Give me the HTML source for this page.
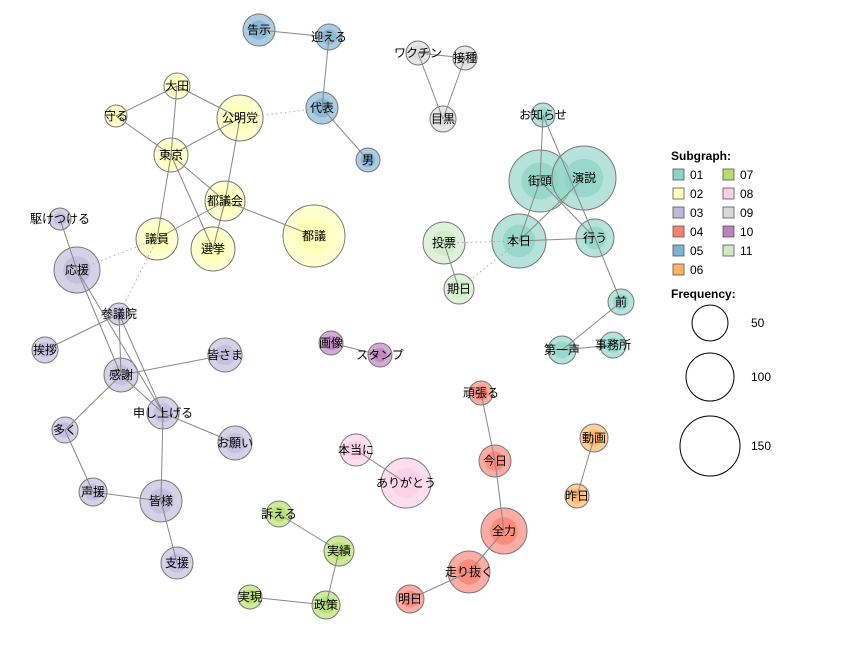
<!DOCTYPE html>
<html><head><meta charset="utf-8"><style>
body{margin:0;background:#fff}
svg text{font-family:"Liberation Sans","Noto Sans CJK JP",sans-serif;font-size:12px}
</style></head><body>
<svg width="853" height="640" viewBox="0 0 853 640" xmlns="http://www.w3.org/2000/svg">
<g id="nodes"></g>
<g id="edges" stroke="#888" stroke-width="1" fill="none"></g>
<g id="labels" text-anchor="middle"></g>
<g id="legend"></g>
</svg>
<script>
var C={"01":"#8DD3C7","02":"#FFFFB3","03":"#BEBADA","04":"#FB8072","05":"#80B1D3","06":"#FDB462","07":"#B3DE69","08":"#FCCDE5","09":"#D9D9D9","10":"#BC80BD","11":"#CCEBC5"};
var N={"告示":[259,30,16,"05"],"迎える":[329,37,13,"05"],"代表":[322,108,16,"05"],"男":[368,160,12,"05"],
"ワクチン":[418,53,12,"09"],"接種":[465,58,12,"09"],"目黒":[443,119,13,"09"],
"お知らせ":[543,115,12,"01"],"街頭":[540,181,31,"01"],"演説":[584,178,32,"01"],"本日":[519,241,27,"01"],"行う":[595,238,19,"01"],"前":[621,302,13,"01"],"第一声":[562,350,14,"01"],"事務所":[613,345,13,"01"],
"投票":[444,243,21,"11"],"期日":[459,289,15,"11"],
"大田":[177,86,13,"02"],"守る":[116,116,11,"02"],"公明党":[240,118,23,"02"],"東京":[171,155,17,"02"],"都議会":[225,201,20,"02"],"都議":[314,236,31,"02"],"議員":[157,239,21,"02"],"選挙":[213,249,22,"02"],
"駆けつける":[60,219,11,"03"],"応援":[77,270,23,"03"],"参議院":[119,314,11,"03"],"挨拶":[45,350,13,"03"],"皆さま":[225,355,17,"03"],"感謝":[121,375,17,"03"],"申し上げる":[163,413,16,"03"],"お願い":[235,443,17,"03"],"多く":[65,430,13,"03"],"声援":[93,492,14,"03"],"皆様":[161,501,21,"03"],"支援":[177,563,16,"03"],
"画像":[331,343,12,"10"],"スタンプ":[380,355,12,"10"],
"頑張る":[481,393,12,"04"],"今日":[495,461,16,"04"],"全力":[504,531,23,"04"],"走り抜く":[469,572,21,"04"],"明日":[410,599,14,"04"],
"動画":[594,438,14,"06"],"昨日":[577,496,12,"06"],
"本当に":[356,450,16,"08"],"ありがとう":[406,483,25,"08"],
"訴える":[279,514,13,"07"],"実績":[339,551,15,"07"],"政策":[326,605,14,"07"],"実現":[250,597,12,"07"]};
var E=["告示-迎える","迎える-代表","代表-男","代表-公明党-d","ワクチン-目黒","接種-目黒","ワクチン-接種",
"お知らせ-街頭","お知らせ-行う","街頭-本日","演説-本日","街頭-行う","本日-行う","行う-前","前-第一声","第一声-事務所","投票-本日-d","期日-本日-d","投票-期日",
"大田-守る","大田-東京","大田-公明党","守る-東京","東京-公明党","公明党-都議会","東京-都議会","東京-議員","東京-選挙","都議会-議員","都議会-選挙","都議会-都議","議員-応援-d","議員-参議院-d",
"駆けつける-応援","応援-感謝","応援-申し上げる","参議院-挨拶","参議院-感謝","参議院-申し上げる","感謝-皆さま","感謝-多く","感謝-申し上げる","申し上げる-お願い","申し上げる-皆様","多く-声援","声援-皆様","皆様-支援",
"画像-スタンプ","頑張る-今日","今日-全力","全力-走り抜く","走り抜く-明日","動画-昨日","本当に-ありがとう","訴える-実績","実績-政策","政策-実現"];
var ns="http://www.w3.org/2000/svg";
function el(p,t,a,txt){var e=document.createElementNS(ns,t);for(var k in a)e.setAttribute(k,a[k]);if(txt)e.textContent=txt;p.appendChild(e);return e;}
var gn=document.getElementById("nodes"),ge=document.getElementById("edges"),gl=document.getElementById("labels"),lg=document.getElementById("legend");
for(var k in N){var n=N[k];
el(gn,"circle",{cx:n[0],cy:n[1],r:n[2],fill:C[n[3]],"fill-opacity":0.65,stroke:"#777","stroke-width":1});
el(gn,"circle",{cx:n[0],cy:n[1],r:n[2]*0.6,fill:C[n[3]],"fill-opacity":0.75});}
E.forEach(function(s){var p=s.split("-"),a=N[p[0]],b=N[p[1]];var at={x1:a[0],y1:a[1],x2:b[0],y2:b[1]};if(p[2]){at["stroke-dasharray"]="1.5,3";at.stroke="#aaa";}el(ge,"line",at);});
for(var k in N){var n=N[k];el(gl,"text",{x:n[0],y:n[1]+4,fill:"#000"},k);}
el(lg,"text",{x:671,y:160,"font-weight":"bold",fill:"#000"},"Subgraph:");
var keys=["01","02","03","04","05","06","07","08","09","10","11"];
keys.forEach(function(k,i){var col=i<6?0:1,row=i<6?i:i-6;var x=673+col*50,y=169+row*19;
el(lg,"rect",{x:x,y:y,width:11,height:11,fill:C[k],stroke:"#555","stroke-width":0.8});
el(lg,"text",{x:x+17,y:y+10,fill:"#000"},k);});
el(lg,"text",{x:671,y:298,"font-weight":"bold",fill:"#000"},"Frequency:");
[[323,18,"50"],[377,24,"100"],[446,30,"150"]].forEach(function(f){el(lg,"circle",{cx:710,cy:f[0],r:f[1],fill:"#fff",stroke:"#000"});el(lg,"text",{x:751,y:f[0]+4,fill:"#000"},f[2]);});
</script>
</body></html>
